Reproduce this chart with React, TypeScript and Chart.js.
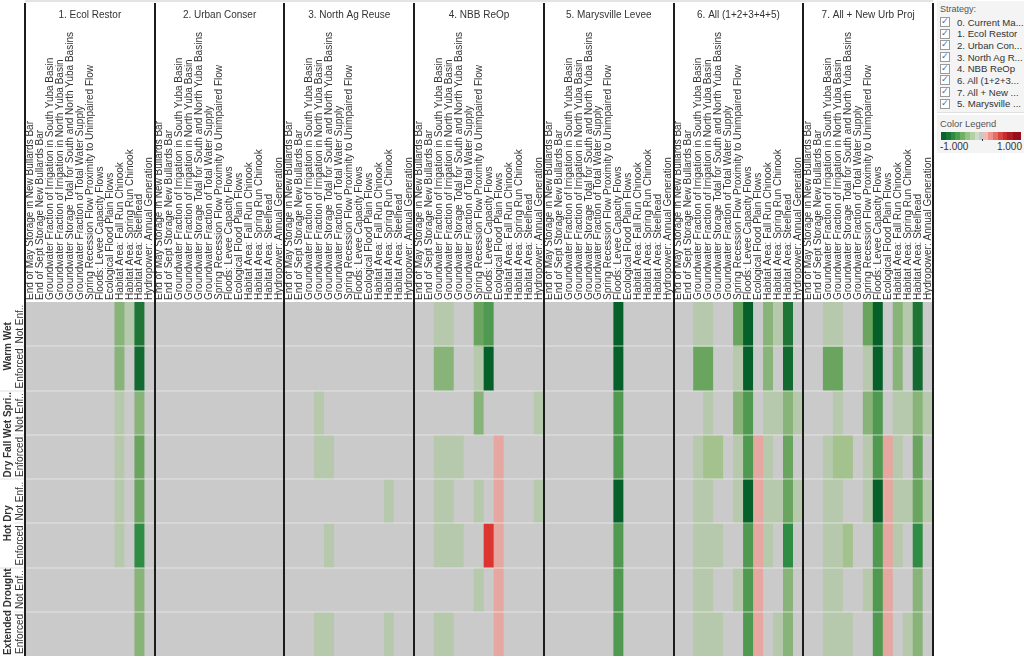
import React, { useEffect, useRef } from "react";
import { Chart, registerables } from "chart.js";

Chart.register(...registerables);

const STRATEGIES = [
  "1. Ecol Restor",
  "2. Urban Conser",
  "3. North Ag Reuse",
  "4. NBB ReOp",
  "5. Marysville Levee",
  "6. All (1+2+3+4+5)",
  "7. All + New Urb Proj",
];

const METRICS = [
  "End of May Storage in New Bullards Bar",
  "End of Sept Storage New Bullards Bar",
  "Groundwater Fraction of Irrigation in South Yuba Basin",
  "Groundwater Fraction of Irrigation in North Yuba Basin",
  "Groundwater Storage Total for South and North Yuba Basins",
  "Groundwater Fraction of Total Water Supply",
  "Spring Recession Flow Proximity to Unimpaired Flow",
  "Floods: Levee Capacity Flows",
  "Ecological Flood Plain Flows",
  "Habitat Area: Fall Run Chinook",
  "Habitat Area: Spring Run Chinook",
  "Habitat Area: Steelhead",
  "Hydropower: Annual Generation",
];

const SCENARIOS = ["Warm Wet", "Dry Fall Wet Spri..", "Hot Dry", "Extended Drought"];
const ENFORCEMENT = ["Not Enf..", "Enforced"];

const LEGEND_ITEMS = [
  "0. Current Ma...",
  "1. Ecol Restor",
  "2. Urban Con...",
  "3. North Ag R...",
  "4. NBB ReOp",
  "6. All (1+2+3...",
  "7. All + New ...",
  "5. Marysville ...",
];

// rows: WW-NotEnf, WW-Enf, DFWS-NotEnf, DFWS-Enf, HD-NotEnf, HD-Enf, ED-NotEnf, ED-Enf
const ECOL_RESTOR = [
  [0, 0, 0, 0, 0, 0, 0, 0, 0, -0.4, -0.15, -0.8, 0],
  [0, 0, 0, 0, 0, 0, 0, 0, 0, -0.4, 0, -0.9, 0],
  [0, 0, 0, 0, 0, 0, 0, 0, 0, -0.15, 0, -0.4, 0],
  [0, 0, 0, 0, 0, 0, 0, 0, 0, -0.15, 0, -0.5, 0],
  [0, 0, 0, 0, 0, 0, 0, 0, 0, -0.15, 0, -0.5, 0],
  [0, 0, 0, 0, 0, 0, 0, 0, 0, -0.15, 0, -0.7, 0],
  [0, 0, 0, 0, 0, 0, 0, 0, 0, 0, 0, -0.4, 0],
  [0, 0, 0, 0, 0, 0, 0, 0, 0, 0, 0, -0.4, 0],
];

const URBAN_CONSER = [
  [0, 0, 0, 0, 0, 0, 0, 0, 0, 0, 0, 0, 0],
  [0, 0, 0, 0, 0, 0, 0, 0, 0, 0, 0, 0, 0],
  [0, 0, 0, 0, 0, 0, 0, 0, 0, 0, 0, 0, 0],
  [0, 0, 0, 0, 0, 0, 0, 0, 0, 0, 0, 0, 0],
  [0, 0, 0, 0, 0, 0, 0, 0, 0, 0, 0, 0, 0],
  [0, 0, 0, 0, 0, 0, 0, 0, 0, 0, 0, 0, 0],
  [0, 0, 0, 0, 0, 0, 0, 0, 0, 0, 0, 0, 0],
  [0, 0, 0, 0, 0, 0, 0, 0, 0, 0, 0, 0, 0],
];

const NORTH_AG_REUSE = [
  [0, 0, 0, 0, 0, 0, 0, 0, 0, 0, 0, 0, 0],
  [0, 0, 0, 0, 0, 0, 0, 0, 0, 0, 0, 0, 0],
  [0, 0, 0, -0.15, 0, 0, 0, 0, 0, 0, 0, 0, 0],
  [0, 0, 0, -0.15, -0.15, 0, 0, 0, 0, 0, 0, 0, 0],
  [0, 0, 0, 0, 0, 0, 0, 0, 0, 0, -0.15, 0, 0],
  [0, 0, 0, 0, -0.15, 0, 0, 0, 0, 0, 0, 0, 0],
  [0, 0, 0, 0, 0, 0, 0, 0, 0, 0, 0, 0, 0],
  [0, 0, 0, -0.15, -0.15, 0, 0, 0, 0, 0, -0.15, 0, 0],
];

const NBB_REOP = [
  [0, 0, -0.15, -0.15, 0, 0, -0.5, -0.6, 0, 0, 0, 0, 0],
  [0, 0, -0.4, -0.4, 0, 0, -0.15, -1, 0, 0, 0, 0, 0],
  [0, 0, 0, 0, 0, 0, -0.4, 0, 0, 0, 0, 0, -0.15],
  [0, 0, -0.15, -0.15, -0.15, 0, 0, 0, 0.2, 0, 0, 0, 0],
  [0, 0, -0.15, -0.15, 0, 0, -0.15, 0, 0.2, 0, 0, 0, -0.15],
  [0, 0, -0.15, -0.15, -0.15, 0, 0, 0.8, 0.2, 0, 0, 0, 0],
  [0, 0, 0, 0, 0, 0, -0.15, 0, 0.2, 0, 0, 0, 0],
  [0, 0, -0.15, -0.15, 0, 0, 0, 0, 0.2, 0, 0, 0, 0],
];

const MARYSVILLE_LEVEE = [
  [0, 0, 0, 0, 0, 0, 0, -1, 0, 0, 0, 0, 0],
  [0, 0, 0, 0, 0, 0, 0, -1, 0, 0, 0, 0, 0],
  [0, 0, 0, 0, 0, 0, 0, -0.6, 0, 0, 0, 0, 0],
  [0, 0, 0, 0, 0, 0, 0, -0.6, 0, 0, 0, 0, 0],
  [0, 0, 0, 0, 0, 0, 0, -1, 0, 0, 0, 0, 0],
  [0, 0, 0, 0, 0, 0, 0, -0.6, 0, 0, 0, 0, 0],
  [0, 0, 0, 0, 0, 0, 0, -0.6, 0, 0, 0, 0, 0],
  [0, 0, 0, 0, 0, 0, 0, -0.6, 0, 0, 0, 0, 0],
];

const ALL_COMBINED = [
  [0, 0, -0.15, -0.15, 0, 0, -0.5, -1, 0, -0.4, -0.15, -0.8, 0],
  [0, 0, -0.5, -0.5, 0, 0, -0.15, -1, 0, -0.4, 0, -0.9, 0],
  [0, 0, 0, -0.15, 0, 0, -0.4, -0.6, 0, -0.15, -0.15, -0.4, -0.15],
  [0, 0, -0.15, -0.25, -0.25, 0, -0.15, -0.6, 0.2, -0.15, 0, -0.5, 0],
  [0, 0, -0.15, -0.15, 0, 0, -0.15, -1, 0.2, -0.15, -0.15, -0.5, -0.15],
  [0, 0, -0.15, -0.15, -0.15, 0, 0, -0.6, 0.2, -0.15, 0, -0.7, 0],
  [0, 0, -0.15, -0.15, 0, 0, -0.15, -0.6, 0.2, 0, 0, -0.4, 0],
  [0, 0, -0.15, -0.15, -0.15, 0, 0, -0.6, 0.2, 0, -0.15, -0.4, 0],
];

const ALL_NEW_URB = [
  [0, 0, -0.15, -0.15, 0, 0, -0.5, -1, 0, -0.4, -0.15, -0.8, 0],
  [0, 0, -0.5, -0.5, 0, 0, -0.15, -1, 0, -0.4, 0, -0.9, 0],
  [0, 0, 0, -0.15, 0, 0, -0.4, -0.6, 0, -0.15, -0.15, -0.4, -0.15],
  [0, 0, -0.15, -0.25, -0.25, 0, -0.15, -0.6, 0.2, -0.15, 0, -0.5, 0],
  [0, 0, -0.15, -0.15, 0, 0, -0.15, -1, 0.2, -0.15, -0.15, -0.5, -0.15],
  [0, 0, -0.15, -0.15, -0.25, 0, 0, -0.6, 0.2, -0.15, 0, -0.7, 0],
  [0, 0, -0.15, -0.15, 0, 0, -0.15, -0.6, 0.2, 0, 0, -0.4, 0],
  [0, 0, -0.15, -0.15, -0.15, 0, 0, -0.6, 0.2, 0, -0.15, -0.4, 0],
];

const PANELS = [ECOL_RESTOR, URBAN_CONSER, NORTH_AG_REUSE, NBB_REOP, MARYSVILLE_LEVEE, ALL_COMBINED, ALL_NEW_URB];

const GRAY = "#cacaca";

function colorFor(v: number): string {
  if (v === 0) return GRAY;
  const a = Math.abs(v);
  if (v < 0) {
    if (a <= 0.2) return "#b7c9ad";
    if (a <= 0.3) return "#a3c28e";
    if (a <= 0.45) return "#88b47a";
    if (a <= 0.55) return "#6aa55f";
    if (a <= 0.65) return "#4f9a50";
    if (a <= 0.75) return "#2f8c45";
    if (a <= 0.85) return "#1e7535";
    if (a <= 0.95) return "#126a30";
    return "#066029";
  }
  if (a <= 0.3) return "#e5a7a0";
  return "#dc3530";
}

const FONT = '"Liberation Sans", Arial, sans-serif';

const overlayPlugin = {
  id: "overlay",
  beforeDatasetsDraw(chart: any) {
    const { ctx, chartArea } = chart;
    ctx.save();
    ctx.fillStyle = GRAY;
    ctx.fillRect(chartArea.left, chartArea.top, chartArea.right - chartArea.left, chartArea.bottom - chartArea.top);
    ctx.restore();
  },
  afterDatasetsDraw(chart: any) {
    const { ctx, chartArea } = chart;
    const xs = chart.scales.x;
    const ys = chart.scales.y;
    const { left, right, top, bottom } = chartArea;
    const nCols = METRICS.length * STRATEGIES.length;
    const colW = (right - left) / nCols;
    const nRows = SCENARIOS.length * ENFORCEMENT.length;
    ctx.save();

    // top faint border
    ctx.fillStyle = "#e4e4e4";
    ctx.fillRect(left, 0, right - left, 2);

    // row separators
    for (let r = 1; r < nRows; r++) {
      const py = Math.round(ys.getPixelForValue(r));
      ctx.fillStyle = "rgba(238,238,238,0.75)";
      ctx.fillRect(left, py - 0.5, right - left, 1);
      ctx.fillStyle = "#e2e2e2";
      const x0 = r % 2 === 0 ? 0 : 14;
      ctx.fillRect(x0, py - 0.5, left - x0, 1);
    }

    // panel separators
    ctx.fillStyle = "#1c1c1c";
    for (let p = 0; p <= STRATEGIES.length; p++) {
      const px = p < STRATEGIES.length ? xs.getPixelForValue(p * METRICS.length) - colW / 2 : right;
      ctx.fillRect(Math.round(px) - 1, 3, 2, bottom - 3);
    }

    // panel titles
    ctx.fillStyle = "#333";
    ctx.font = `10px ${FONT}`;
    ctx.textAlign = "center";
    ctx.textBaseline = "middle";
    STRATEGIES.forEach((s, p) => {
      const cx = xs.getPixelForValue(p * METRICS.length + (METRICS.length - 1) / 2);
      ctx.fillText(s, cx, 15.5);
    });

    // row labels
    SCENARIOS.forEach((s, si) => {
      const cy = ys.getPixelForValue(si * 2 + 1);
      ctx.save();
      ctx.translate(8, cy);
      ctx.rotate(-Math.PI / 2);
      ctx.font = `bold 10px ${FONT}`;
      ctx.fillStyle = "#333";
      ctx.textAlign = "center";
      ctx.textBaseline = "middle";
      ctx.fillText(s, 0, 0);
      ctx.restore();
      ENFORCEMENT.forEach((e, ei) => {
        const ry = ys.getPixelForValue(si * 2 + ei + 0.5);
        ctx.save();
        ctx.translate(20, ry);
        ctx.rotate(-Math.PI / 2);
        ctx.font = `10px ${FONT}`;
        ctx.fillStyle = "#333";
        ctx.textAlign = "center";
        ctx.textBaseline = "middle";
        ctx.fillText(e, 0, 0);
        ctx.restore();
      });
    });
    ctx.restore();
  },
};

function HeatChart() {
  const ref = useRef<HTMLCanvasElement | null>(null);
  useEffect(() => {
    if (!ref.current) return;
    const labels: string[] = [];
    STRATEGIES.forEach(() => METRICS.forEach((m) => labels.push(m)));
    const nRows = SCENARIOS.length * ENFORCEMENT.length;
    const datasets = [];
    for (let r = 0; r < nRows; r++) {
      const values: number[] = [];
      PANELS.forEach((panel) => panel[r].forEach((v) => values.push(v)));
      datasets.push({
        label: `${SCENARIOS[Math.floor(r / 2)]} ${ENFORCEMENT[r % 2]}`,
        data: values.map(() => [r, r + 1]),
        backgroundColor: values.map(colorFor),
        borderWidth: 0,
        barPercentage: 1,
        categoryPercentage: 1,
        grouped: false,
      });
    }
    const chart = new Chart(ref.current, {
      type: "bar",
      data: { labels, datasets: datasets as any },
      options: {
        responsive: false,
        animation: false,
        layout: { padding: { left: 25, right: 2, top: 0, bottom: 0 } },
        plugins: { legend: { display: false }, tooltip: { enabled: false } },
        scales: {
          x: {
            type: "category",
            position: "top",
            grid: { display: false, drawTicks: false },
            border: { display: false },
            ticks: {
              autoSkip: false,
              minRotation: 90,
              maxRotation: 90,
              padding: 2,
              labelOffset: 12,
              color: "#333",
              font: { family: FONT, size: 10 },
            },
            afterFit: (scale: any) => {
              scale.height = 302;
            },
          },
          y: {
            type: "linear",
            display: false,
            min: 0,
            max: 8,
            reverse: true,
          },
        },
      },
      plugins: [overlayPlugin],
    });
    return () => chart.destroy();
  }, []);
  return <canvas ref={ref} width={935} height={656} style={{ display: "block" }} />;
}

const GRADIENT =
  "linear-gradient(to right, #0b622a 0%, #0b622a 6%, #1a7434 6%, #1a7434 12%, #2f8a42 12%, #2f8a42 18%, #4c9c4f 18%, #4c9c4f 24%, #6fb063 24%, #6fb063 30%, #93c486 30%, #93c486 36%, #b2d1a6 36%, #b2d1a6 42%, #cfdcca 42%, #cfdcca 48%, #c8c8c8 48%, #c8c8c8 53%, #f3b9b2 53%, #f3b9b2 59%, #ee958b 59%, #ee958b 65%, #e56f66 65%, #e56f66 71%, #d9463f 71%, #d9463f 77%, #c72c2c 77%, #c72c2c 83%, #b01c23 83%, #b01c23 90%, #960f1c 90%, #960f1c 100%)";

function LegendPanel() {
  return (
    <div style={{ position: "absolute", left: 935, top: 0, width: 89, height: 656, background: "#fff", fontFamily: FONT, color: "#333" }}>
      <div style={{ position: "absolute", left: 2, top: 1, width: 87, height: 111, background: "#f4f4f4", borderBottom: "1px solid #e2e2e2" }}>
        <div style={{ position: "absolute", left: 3, top: 3, fontSize: 9, color: "#555" }}>Strategy:</div>
        {LEGEND_ITEMS.map((t, i) => (
          <div key={t} style={{ position: "absolute", left: 0, top: 15 + i * 11.67, height: 12, width: 87, display: "flex", alignItems: "center", whiteSpace: "nowrap", overflow: "hidden" }}>
            <span style={{ display: "inline-block", width: 8, height: 8, border: "1px solid #9a9a9a", background: "#fff", marginLeft: 3, position: "relative", flex: "none" }}>
              <span style={{ position: "absolute", left: 0, top: -3, fontSize: 9, color: "#3a6fc4", fontFamily: "DejaVu Sans", lineHeight: "12px" }}>✓</span>
            </span>
            <span style={{ fontSize: 9.6, marginLeft: 7 }}>{t}</span>
          </div>
        ))}
      </div>
      <div style={{ position: "absolute", left: 2, top: 115, width: 87, height: 38, background: "#f4f4f4" }}>
        <div style={{ position: "absolute", left: 3, top: 3, fontSize: 9.4, color: "#555" }}>Color Legend</div>
        <div style={{ position: "absolute", left: 4, top: 17, width: 80, height: 8, background: GRADIENT }} />
        <div style={{ position: "absolute", left: 45, top: 24, width: 1, height: 2, background: "#333" }} />
        <div style={{ position: "absolute", left: 3, top: 26, fontSize: 10 }}>-1.000</div>
        <div style={{ position: "absolute", right: 2, top: 26, fontSize: 10 }}>1.000</div>
      </div>
    </div>
  );
}

export default function App() {
  return (
    <div style={{ position: "fixed", left: 0, top: 0, width: 1024, height: 656, background: "#fff", overflow: "hidden" }}>
      <div style={{ position: "absolute", left: 0, top: 0 }}>
        <HeatChart />
      </div>
      <LegendPanel />
    </div>
  );
}
